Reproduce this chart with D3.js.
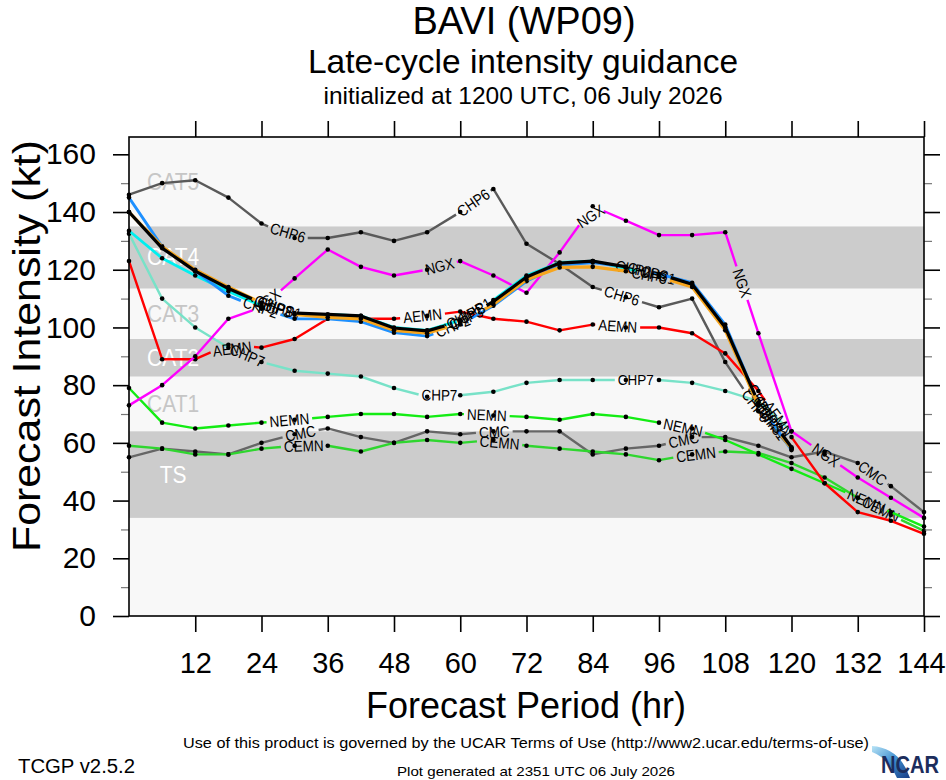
<!DOCTYPE html>
<html><head><meta charset="utf-8">
<script src="https://cdn.jsdelivr.net/npm/d3@7"></script>
<style>
body{margin:0;background:#fff}
svg{display:block}
text{font-family:"Liberation Sans",Arial,Helvetica,sans-serif}
</style>
</head><body>
<svg id="c" width="946" height="780"></svg>
<script>
// ---------------- data ----------------
const hours = [0,6,12,18,24,30,36,42,48,54,60,66,72,78,84,90,96,102,108,114,120,126,132,138,144];
const xTicks = [12,24,36,48,60,72,84,96,108,120,132,144];
const yTicks = [0,20,40,60,80,100,120,140,160];
const yMinor = [10,30,50,70,90,110,130,150];

const catNames = ["CAT5","CAT4","CAT3","CAT2","CAT1","TS"];
const catLo    = [135,113.5,96,83,64,34];
const catHi    = [166,135,113.5,96,83,64];
const catDark  = [false,true,false,true,false,true];

const CMC   = [55,58,57,56,60,63,65,62,60,64,63,64,64,64,56,58,59,62,62,59,55,57,53,45,36];
const CEMN  = [59,58,56,56,58,59,59,57,60,61,60,61,59,58,57,56,54,56,57,56.5,53,48,41,35,29.5];
const NEMN  = [79,67,65,66,67,68,69,70,70,69,70,69.5,69,68,70,69,67,65,61,56,51,46,41,36,31];
const CHP7  = [132.5,110,100,93,88,85,84,83,79,76,76.5,77.7,80.8,81.8,81.8,81.8,81.8,80.8,78,74.5,64];
const CHP6  = [146,150,151,145,136,131,131,133,130,133,140,148,129,122,114,110.5,107,110,88,71,58];
const AEMN  = [123,89,89,94,93,96,103,103,103,104,105.5,103,102,99,101,100,100,98,91,78,62,46,36,33,28.5];
const NGX   = [73,80,90,103,107,117,127,121,118,120,123,118,112,126,142,137,132,132,133,98,64,56,48,41,34];
const CHP1  = [133.5,124,118,112.5,107.5,104.5,104.5,104,100,99,102.5,109.5,118,122.5,123,120.5,118,115,100,73,58];
const CHP2  = [145,128,119.5,111,106.5,103,103,102,98.2,97,101,107.5,116,121.5,122.5,121,118.5,115.5,101,74,57.5];
const CHP3  = [140,128,120,114,108.5,104.5,103.5,103,99,98,101.5,108,116.5,120.8,121,119.5,117.5,114,99,73,58];
const CHIPS = [140,127.5,119.5,113.5,108.5,105,104.5,104,99.8,98.8,102,109,117.5,122.3,123,121,118.5,115,100,74,58.5];

const seriesNames  = ["CMC","CEMN","NEMN","CHP7","CHP6","AEMN","NGX","CHP1","CHP2","CHP3","CHIPS"];
const seriesValues = [CMC,CEMN,NEMN,CHP7,CHP6,AEMN,NGX,CHP1,CHP2,CHP3,CHIPS];
const seriesColors = ["#666666","#2fd62f","#14ec14","#78e2c8","#5a5a5a","#ff0000","#ff00ff","#00f0f0","#1e90ff","#f7a51c","#000000"];
const seriesWidths = [2.4,2.4,2.4,2.4,2.4,2.4,2.4,2.8,2.8,3.2,3.2];

// ---------------- layout ----------------
const svg = d3.select("#c");
const x = d3.scaleLinear().domain([0,144]).range([129,924]);
const y = d3.scaleLinear().domain([0,166]).range([616,137]);

svg.append("rect").attr("x",x(0)).attr("y",y(166)).attr("width",x(144)-x(0)).attr("height",y(0)-y(166)).attr("fill","#f8f8f8");
catNames.forEach((n,i)=>{
  if(catDark[i]) svg.append("rect").attr("x",x(0)).attr("y",y(catHi[i])).attr("width",x(144)-x(0))
     .attr("height",y(catLo[i])-y(catHi[i])).attr("fill","#cccccc");
});
catNames.forEach((n,i)=>{
  svg.append("text").attr("transform",`translate(${x(8)},${y((catLo[i]+catHi[i])/2)}) scale(1,1.12)`).attr("text-anchor","middle")
    .attr("dominant-baseline","central").attr("font-size",21).attr("fill",catDark[i]?"#ffffff":"#c6c6c6").text(n);
});

// ---------------- series ----------------
const LABEL_FS = 13.5;
function measure(txt){
  const t = svg.append("text").attr("font-size",LABEL_FS).text(txt);
  const w = t.node().getComputedTextLength(); t.remove(); return w;
}
function cumLen(p){ const c=[0]; for(let i=1;i<p.length;i++) c.push(c[i-1]+Math.hypot(p[i][0]-p[i-1][0],p[i][1]-p[i-1][1])); return c; }
function pointAt(p,c,s){
  if(s<=0) return p[0].slice();
  for(let i=1;i<p.length;i++){
    if(s<=c[i]){ const t=(s-c[i-1])/(c[i]-c[i-1]||1); return [p[i-1][0]+t*(p[i][0]-p[i-1][0]), p[i-1][1]+t*(p[i][1]-p[i-1][1])]; }
  }
  return p[p.length-1].slice();
}
function subPath(p,c,a,b){
  const out=[pointAt(p,c,a)];
  for(let i=0;i<p.length;i++) if(c[i]>a && c[i]<b) out.push(p[i]);
  out.push(pointAt(p,c,b)); return out;
}
const lineGen = d3.line();
const FIRST = 176, STEP = 198, PAD = 3;

seriesNames.forEach((name,si)=>{
  const vals = seriesValues[si];
  const pts = vals.map((v,i)=>[x(hours[i]), y(v)]);
  const c = cumLen(pts); const L = c[c.length-1];
  const w = measure(name);
  const labels=[];
  for(let s=FIRST; s + w/2 <= L; s+=STEP) labels.push(s);
  let intervals=[]; let start=0;
  labels.forEach(s=>{ const a=s-w/2-PAD, b=s+w/2+PAD; if(a>start) intervals.push([start,a]); start=b; });
  if(start<L) intervals.push([start,L]);
  const g = svg.append("g");
  intervals.forEach(([a,b])=>{
    g.append("path").attr("d",lineGen(subPath(pts,c,a,b))).attr("fill","none")
      .attr("stroke",seriesColors[si]).attr("stroke-width",seriesWidths[si])
      .attr("stroke-linejoin","round").attr("stroke-linecap","butt");
  });
  labels.forEach(s=>{
    const p1=pointAt(pts,c,s-w/2), p2=pointAt(pts,c,s+w/2);
    const cx=(p1[0]+p2[0])/2, cy=(p1[1]+p2[1])/2;
    const ang=Math.atan2(p2[1]-p1[1],p2[0]-p1[0])*180/Math.PI;
    g.append("text").attr("transform",`translate(${cx},${cy}) rotate(${ang}) scale(1,1.15)`)
      .attr("text-anchor","middle").attr("dominant-baseline","central")
      .attr("font-size",LABEL_FS).attr("fill","#000").text(name);
  });
  g.selectAll("circle.d").data(pts).enter().append("circle").attr("class","d")
    .attr("cx",d=>d[0]).attr("cy",d=>d[1]).attr("r",2.3).attr("fill","#000");
});

// ---------------- axes & frame ----------------
function styleAxis(g){ g.select(".domain").remove(); g.selectAll("line").attr("stroke","#000").attr("stroke-width",1.6);
  g.attr("font-family","'Liberation Sans',Arial,Helvetica,sans-serif"); }
const gx = svg.append("g").attr("transform",`translate(0,${y(0)})`)
  .call(d3.axisBottom(x).tickValues(xTicks).tickSize(16).tickPadding(20).tickSizeOuter(0));
styleAxis(gx); gx.attr("font-size",29); gx.selectAll("text").attr("fill","#000");
gx.selectAll(".tick text").filter(d=>d===144).attr("dx",-3);
const gt = svg.append("g").attr("transform",`translate(0,${y(166)})`)
  .call(d3.axisTop(x).tickValues(xTicks).tickSize(16).tickFormat(""));
styleAxis(gt);
const gy = svg.append("g").attr("transform",`translate(${x(0)},0)`)
  .call(d3.axisLeft(y).tickValues(yTicks).tickSize(16).tickPadding(17).tickSizeOuter(0));
styleAxis(gy); gy.attr("font-size",30); gy.selectAll("text").attr("fill","#000");
const gym = svg.append("g").attr("transform",`translate(${x(0)},0)`)
  .call(d3.axisLeft(y).tickValues(yMinor).tickSize(8).tickFormat(""));
gym.select(".domain").remove(); gym.selectAll("line").attr("stroke","#777").attr("stroke-width",1.2);
const gr = svg.append("g").attr("transform",`translate(${x(144)},0)`)
  .call(d3.axisRight(y).tickValues(yTicks).tickSize(16).tickFormat(""));
styleAxis(gr);
const grm = svg.append("g").attr("transform",`translate(${x(144)},0)`)
  .call(d3.axisRight(y).tickValues(yMinor).tickSize(8).tickFormat(""));
grm.select(".domain").remove(); grm.selectAll("line").attr("stroke","#777").attr("stroke-width",1.2);
svg.append("rect").attr("x",x(0)).attr("y",y(166)).attr("width",x(144)-x(0)).attr("height",y(0)-y(166))
  .attr("fill","none").attr("stroke","#000").attr("stroke-width",1.6);

// ---------------- titles ----------------
svg.append("text").attr("x",524).attr("y",34).attr("text-anchor","middle").attr("font-size",38).text("BAVI (WP09)");
svg.append("text").attr("x",523).attr("y",73).attr("text-anchor","middle").attr("font-size",33.5).text("Late-cycle intensity guidance");
svg.append("text").attr("x",523).attr("y",104).attr("text-anchor","middle").attr("font-size",24.5).text("initialized at 1200 UTC, 06 July 2026");
svg.append("text").attr("x",526).attr("y",718).attr("text-anchor","middle").attr("font-size",36).text("Forecast Period (hr)");
svg.append("text").attr("transform","translate(40,346) rotate(-90)").attr("text-anchor","middle").attr("font-size",39)
  .attr("textLength",412).attr("lengthAdjust","spacingAndGlyphs").text("Forecast Intensity (kt)");

// ---------------- footer ----------------
svg.append("text").attr("x",183).attr("y",748).attr("font-size",15.5).attr("textLength",686).attr("lengthAdjust","spacingAndGlyphs")
  .text("Use of this product is governed by the UCAR Terms of Use (http://www2.ucar.edu/terms-of-use)");
svg.append("text").attr("x",18).attr("y",773).attr("font-size",20).attr("textLength",117).attr("lengthAdjust","spacingAndGlyphs").text("TCGP v2.5.2");
svg.append("text").attr("x",397).attr("y",776).attr("font-size",13).attr("textLength",278).attr("lengthAdjust","spacingAndGlyphs")
  .text("Plot generated at 2351 UTC   06 July 2026");

// NCAR logo
const defs = svg.append("defs");
const lg = defs.append("linearGradient").attr("id","ncg").attr("x1","0").attr("y1","0").attr("x2","1").attr("y2","1");
lg.append("stop").attr("offset","0").attr("stop-color","#b8e4f6");
lg.append("stop").attr("offset","0.5").attr("stop-color","#3f8fd0");
lg.append("stop").attr("offset","1").attr("stop-color","#163d86");
svg.append("path").attr("d","M872,746 Q900,748 910,778 L897,778 Q888,758 872,752 Z").attr("fill","url(#ncg)");
svg.append("text").attr("x",881).attr("y",773).attr("font-size",23).attr("font-weight","bold").attr("fill","#1c2d5c")
  .attr("textLength",58).attr("lengthAdjust","spacingAndGlyphs").text("NCAR");
</script>
</body></html>
